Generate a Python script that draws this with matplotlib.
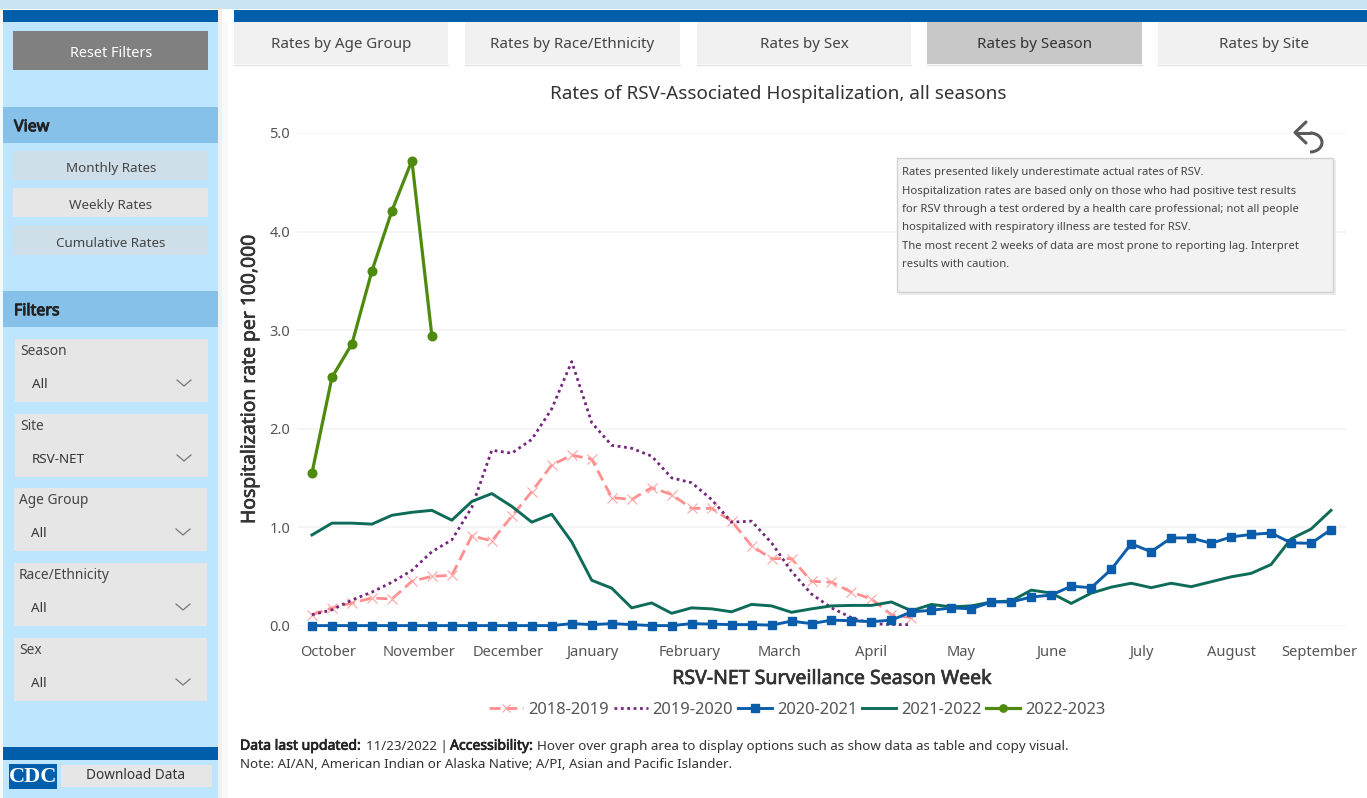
import numpy as np
import matplotlib
matplotlib.use("Agg")
import matplotlib.pyplot as plt
import matplotlib.patheffects as pe
from matplotlib.patches import Rectangle, Arc

plt.rcParams['font.family'] = ['Noto Sans', 'DejaVu Sans']

# ---- data -------------------------------------------------------------
weeks = list(range(52))
s2018 = [0.11, 0.18, 0.23, 0.28, 0.27, 0.45, 0.50, 0.51, 0.91, 0.86, 1.11, 1.36, 1.63, 1.73, 1.69,
         1.30, 1.28, 1.40, 1.33, 1.19, 1.19, 1.06, 0.81, 0.68, 0.68, 0.45, 0.44, 0.34, 0.27, 0.11, 0.08]
s2019 = [0.11, 0.16, 0.26, 0.34, 0.44, 0.56, 0.75, 0.87, 1.20, 1.78, 1.75, 1.89, 2.20, 2.68, 2.06,
         1.83, 1.80, 1.72, 1.50, 1.45, 1.28, 1.05, 1.06, 0.84, 0.55, 0.32, 0.18, 0.08, 0.02, 0.01, 0.01]
s2020 = [0.00, 0.00, 0.00, 0.00, 0.00, 0.00, 0.00, 0.00, 0.00, 0.00, 0.00, 0.00, 0.00, 0.02, 0.01,
         0.02, 0.01, 0.00, 0.00, 0.02, 0.015, 0.01, 0.01, 0.005, 0.045, 0.02, 0.055, 0.05, 0.04, 0.055,
         0.14, 0.155, 0.18, 0.17, 0.24, 0.24, 0.29, 0.31, 0.40, 0.385, 0.57, 0.83, 0.75, 0.89, 0.89,
         0.835, 0.90, 0.925, 0.94, 0.84, 0.835, 0.975]
s2021 = [0.92, 1.04, 1.04, 1.03, 1.12, 1.15, 1.17, 1.07, 1.26, 1.34, 1.21, 1.05, 1.13, 0.85, 0.46,
         0.38, 0.18, 0.23, 0.125, 0.18, 0.17, 0.14, 0.215, 0.20, 0.135, 0.17, 0.20, 0.205, 0.205, 0.24,
         0.15, 0.215, 0.19, 0.20, 0.24, 0.25, 0.36, 0.33, 0.225, 0.33, 0.39, 0.43, 0.385, 0.43, 0.395,
         0.445, 0.495, 0.53, 0.62, 0.88, 0.98, 1.17]
s2022 = [1.55, 2.52, 2.86, 3.60, 4.21, 4.72, 2.94]
season_names = ['2018-2019', '2019-2020', '2020-2021', '2021-2022', '2022-2023']
month_labels = ['October', 'November', 'December', 'January', 'February', 'March',
                'April', 'May', 'June', 'July', 'August', 'September']
month_pos = [0.8, 5.35, 9.8, 14.05, 18.9, 23.4, 28.0, 32.5, 37.0, 41.5, 46.0, 50.4]
y_ticks = [0, 1, 2, 3, 4, 5]
tabs = ['Rates by Age Group', 'Rates by Race/Ethnicity', 'Rates by Sex', 'Rates by Season', 'Rates by Site']
views = ['Monthly Rates', 'Weekly Rates', 'Cumulative Rates']
filters = [('Season', 'All'), ('Site', 'RSV-NET'), ('Age Group', 'All'), ('Race/Ethnicity', 'All'), ('Sex', 'All')]
note_lines = ['Rates presented likely underestimate actual rates of RSV.',
              'Hospitalization rates are based only on those who had positive test results',
              'for RSV through a test ordered by a health care professional; not all people',
              'hospitalized with respiratory illness are tested for RSV.',
              'The most recent 2 weeks of data are most prone to reporting lag. Interpret',
              'results with caution.']

W, H = 1367, 798
fig = plt.figure(figsize=(W / 100, H / 100), dpi=100, facecolor='white')
ui = fig.add_axes([0, 0, 1, 1], zorder=0)
ui.set_xlim(0, W); ui.set_ylim(H, 0); ui.axis('off')
over = fig.add_axes([0, 0, 1, 1], zorder=5)
over.set_xlim(0, W); over.set_ylim(H, 0); over.axis('off')

TXT = '#444444'
def rect(x0, y0, x1, y1, color, shadow=None, z=1, target=ui):
    if shadow:
        target.add_patch(Rectangle((x0 + 2, y0 + 2), x1 - x0 + 1, y1 - y0 + 1, fc=shadow, ec='none', zorder=z))
    target.add_patch(Rectangle((x0, y0), x1 - x0, y1 - y0, fc=color, ec='none', zorder=z + 0.1))
def label(x, y, s, size=10, color=TXT, ha='center', heavy=0, **kw):
    t = ui.text(x, y + 2.7, s, fontsize=size, color=color, ha=ha, va='center', zorder=5, **kw)
    if heavy:
        t.set_path_effects([pe.withStroke(linewidth=heavy, foreground=color)])
    return t

# page chrome
rect(0, 0, W, 9, '#c9e3f2')
rect(234, 10, W, 22, '#005eaa')
rect(0, 9, 3, 798, '#f4f9fc')
rect(3, 10, 218, 798, '#bde5fd')
rect(218, 9, 222, 798, '#f0f0f0')
rect(222, 22, 228, 798, '#f9f9f9')
rect(3, 10, 218, 22, '#005eaa')
rect(13, 31, 208, 70, '#808080', shadow='#8aa6bb')
label(111, 51, 'Reset Filters', 10.4, 'white')
rect(3, 107, 218, 143, '#85c1e8')
label(14, 124.5, 'View', 11.5, '#222222', ha='left', heavy=0.7)
rect(3, 291, 218, 327, '#85c1e8')
label(14, 308.5, 'Filters', 11.5, '#222222', ha='left', heavy=0.7)
for (y0, y1), v, c in zip([(151, 180), (188, 217), (226, 255)], views, ['#cfdfe9', '#e6e6e6', '#cfdfe9']):
    rect(13, y0, 208, y1, c, shadow='#9fbfd8' if c != '#e6e6e6' else '#7088ab')
    label(111, (y0 + y1) / 2, v, 9.7)

fy = [339, 414, 488, 563, 638]
fx = [15, 15, 14, 14, 14]
for (name, val), y0, x0 in zip(filters, fy, fx):
    rect(x0, y0, x0 + 193, y0 + 63, '#e6e6e6', shadow='#84a7c2')
    label(x0 + 5, y0 + 9.5, name, 9.9, ha='left')
    label(x0 + 17, y0 + 43, val, 9.7, '#333333', ha='left')
    cx = x0 + 169
    ui.plot([cx - 7, cx, cx + 7], [y0 + 41, y0 + 47, y0 + 41], color='#777777', lw=0.9, zorder=5)

rect(3, 747, 218, 760, '#005eaa')
rect(9, 764, 57, 789, '#005eaa')
ui.text(33, 777, 'CDC', fontsize=16, color='white', weight='bold', family='Liberation Serif',
        ha='center', va='center', zorder=5)
rect(61, 765, 212, 787, '#e6e6e6', shadow='#8fb0c8')
label(136, 773, 'Download Data', 9.8, '#333333')

# tabs
tx = [(234, 448), (465, 680), (697, 911), (927, 1142), (1158, W)]
for (x0, x1), t in zip(tx, tabs):
    active = t == 'Rates by Season'
    rect(x0, 22, x1, 64, '#c8c8c8' if active else '#f1f1f1')
    ui.plot([x0, x1], [64.5, 64.5], color='#e2e2e2', lw=1, zorder=3)
    label((x0 + x1) / 2 if x1 < W else 1264, 42, t, 10.9, '#333333' if active else TXT)

label(778.5, 91, 'Rates of RSV-Associated Hospitalization, all seasons', 13.6, '#333333')

# note box, above the chart's gridlines
rect(897, 158, 1333, 292, '#f2f2f2', shadow='#ececec', z=6, target=over)
over.add_patch(Rectangle((897, 158), 436, 134, fc='none', ec='#d2d2d2', lw=1, zorder=7))
for i, ln in enumerate(note_lines):
    over.text(902, 173 + i * 18.3, ln, fontsize=8.1, color=TXT, ha='left', va='center', zorder=8)

# back arrow icon
ARROW = '#5a5a5a'
over.add_patch(Rectangle((1290, 118), 38, 36, fc='white', ec='none', zorder=7.5))
over.add_patch(Arc((1310, 142.5), 24, 19, theta1=-90, theta2=90, color=ARROW, lw=2.2, zorder=8))
over.plot([1310, 1296], [133, 133], color=ARROW, lw=2.2, zorder=8, solid_capstyle='round')
over.plot([1306, 1295, 1306], [122, 132.5, 143], color=ARROW, lw=2.2, zorder=8, solid_capstyle='round')

# footer text
label(240, 743.5, 'Data last updated:', 10.1, '#222222', ha='left', heavy=0.5)
label(366, 743.5, '11/23/2022 |', 9.6, '#333333', ha='left')
label(450, 743.5, 'Accessibility:', 10.1, '#222222', ha='left', heavy=0.5)
label(537, 743.5, 'Hover over graph area to display options such as show data as table and copy visual.',
      9.65, '#333333', ha='left')
label(240, 761.5, 'Note: AI/AN, American Indian or Alaska Native; A/PI, Asian and Pacific Islander.',
      9.6, '#333333', ha='left')

# ---- chart ------------------------------------------------------------
x_left, x_right = 297, 1346
y_top, y_bot = 133, 625.6
ax = fig.add_axes([x_left / W, 1 - y_bot / H, (x_right - x_left) / W, (y_bot - y_top) / H], zorder=2)
ax.patch.set_alpha(0)
ax.set_xlim(-0.75, 51.75)
ax.set_ylim(0, 5)
for sp in ax.spines.values():
    sp.set_visible(False)
ax.set_yticks(y_ticks)
ax.set_yticklabels([f'{v:.1f}' for v in y_ticks], fontsize=10.6, color='#555555')
ax.set_xticks(month_pos)
ax.set_xticklabels(month_labels, fontsize=10.6, color='#555555')
ax.tick_params(axis='x', length=0, pad=14)
ax.tick_params(axis='y', length=0, pad=5)
ax.grid(axis='y', color='#f4f4f4', lw=1.2)
ax.set_axisbelow(True)
yl = ax.set_ylabel('Hospitalization rate per 100,000', fontsize=13.9, color='#333333')
xl = ax.set_xlabel('RSV-NET Surveillance Season Week', fontsize=14.05, color='#333333')
ax.yaxis.set_label_coords(-0.0355, 0.5)
ax.xaxis.set_label_coords(0.51, -0.088)
for t in (yl, xl):
    t.set_path_effects([pe.withStroke(linewidth=0.5, foreground='#333333')])

h18, = ax.plot(weeks[:len(s2018)], s2018, color='#ff8f8f', lw=2, ls=(0, (4, 2)), marker='x', ms=6.5,
               mew=0.8, mec='#ffa3a3', clip_on=False, label=season_names[0], zorder=3)
h19, = ax.plot(weeks[:len(s2019)], s2019, color='#74267f', lw=2, ls=(0, (1, 1.3)), clip_on=False,
               label=season_names[1], zorder=3)
h21, = ax.plot(weeks, s2021, color='#0d6b58', lw=2.1, clip_on=False, label=season_names[3], zorder=3.5)
h20, = ax.plot(weeks, s2020, color='#0a5dab', lw=2.1, marker='s', ms=6.2, clip_on=False,
               label=season_names[2], zorder=4)
h22, = ax.plot(weeks[:len(s2022)], s2022, color='#4d8a0e', lw=2.3, marker='o', ms=6.2, clip_on=False,
               label=season_names[4], zorder=4)

fig.legend(handles=[h18, h19, h20, h21, h22], labels=season_names, ncol=5, frameon=False,
           loc='center', bbox_to_anchor=(797.5 / W, 1 - 709.5 / H), fontsize=11.9, labelcolor='#555555',
           handlelength=2.05, handletextpad=0.3, columnspacing=0.3, borderpad=0, markerscale=0.85)

fig.savefig('out.png', dpi=100, facecolor='white')
